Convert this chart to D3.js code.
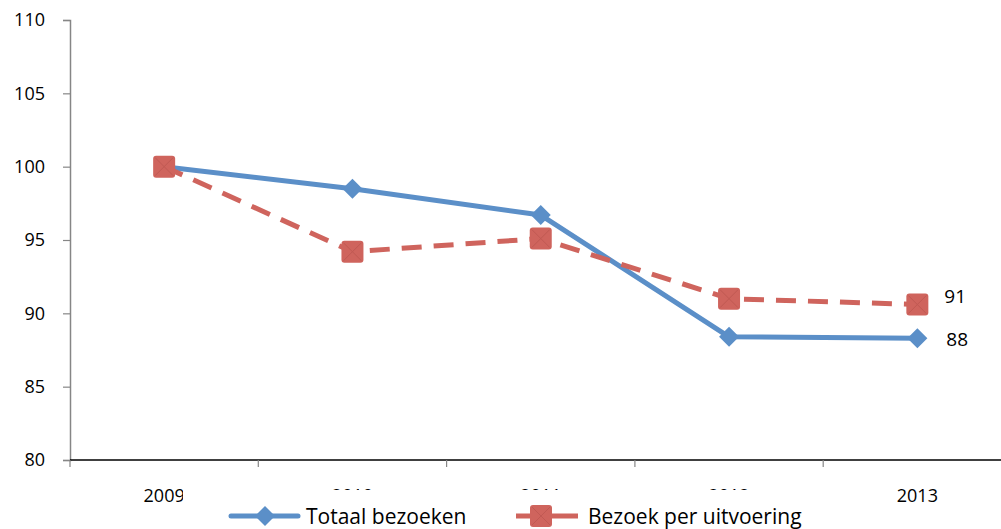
<!DOCTYPE html>
<html>
<head>
<meta charset="utf-8">
<script src="https://cdn.jsdelivr.net/npm/d3@7/dist/d3.min.js"></script>
<style>
  html, body { margin: 0; padding: 0; background: #fff; }
  svg { display: block; font-family: "Open Sans", Lato, sans-serif; }
</style>
</head>
<body>
<svg id="chart" width="1001" height="529"></svg>
<script>
// Index of visits (2009 = 100)
const years = ["2009", "2010", "2011", "2012", "2013"];
const totaalBezoeken = [100, 98.5, 96.7, 88.4, 88.3];
const bezoekPerUitvoering = [100, 94.2, 95.1, 91.0, 90.6];
const yTicks = [80, 85, 90, 95, 100, 105, 110];
const endLabels = ["88", "91"];

const blue = "#5b8fc8";
const red = "#cf645d";
const font = "'Open Sans', Lato, sans-serif";

const svg = d3.select("#chart");

const x = d3.scaleBand().domain(years).range([70, 1011.5]).padding(0);
const y = d3.scaleLinear().domain([80, 110]).range([460, 20]);
const cx = d => x(d) + x.bandwidth() / 2;

// Y axis
const yAxis = svg.append("g").attr("transform", "translate(70,0)")
  .call(d3.axisLeft(y).tickValues(yTicks).tickSize(7).tickPadding(18).tickFormat(d3.format("d")));
yAxis.select(".domain").attr("stroke", "#868686").attr("stroke-width", 1.5);
yAxis.selectAll(".tick line").attr("stroke", "#868686").attr("stroke-width", 1.2);
yAxis.selectAll(".tick text").attr("font-size", 18).attr("fill", "#000").attr("font-family", font);

// X axis: ticks sit on the category boundaries
const xg = svg.append("g");
xg.append("line").attr("x1", 70).attr("x2", 1011.5).attr("y1", 460).attr("y2", 460)
  .attr("stroke", "#000").attr("stroke-width", 1.3);
xg.selectAll("line.tick").data(years).join("line").attr("class", "tick")
  .attr("x1", d => x(d)).attr("x2", d => x(d)).attr("y1", 460).attr("y2", 467)
  .attr("stroke", "#868686").attr("stroke-width", 1.2);
xg.selectAll("text").data(years).join("text")
  .attr("x", cx).attr("y", 502).attr("text-anchor", "middle")
  .attr("font-size", 18).attr("fill", "#000").text(d => d);

// Lines
const line = d3.line().x((d, i) => cx(years[i])).y(d => y(d));

svg.append("path").datum(totaalBezoeken).attr("d", line)
  .attr("fill", "none").attr("stroke", blue).attr("stroke-width", 5).attr("stroke-linejoin", "round");

svg.append("path").datum(bezoekPerUitvoering).attr("d", line)
  .attr("fill", "none").attr("stroke", red).attr("stroke-width", 5)
  .attr("stroke-dasharray", "20,12");

// Markers
function diamond(g, px, py) {
  g.append("path")
    .attr("d", `M${px},${py - 10}L${px + 10},${py}L${px},${py + 10}L${px - 10},${py}Z`)
    .attr("fill", blue);
}
function square(g, px, py) {
  g.append("rect").attr("x", px - 11).attr("y", py - 11).attr("width", 22).attr("height", 22)
    .attr("rx", 3).attr("fill", red);
  g.append("path").attr("d", `M${px - 9},${py - 9}L${px + 9},${py + 9}M${px + 9},${py - 9}L${px - 9},${py + 9}`)
    .attr("stroke", "#b8534d").attr("stroke-width", 1).attr("opacity", 0.6);
}
const markers = svg.append("g");
totaalBezoeken.forEach((v, i) => diamond(markers, cx(years[i]), y(v)));
bezoekPerUitvoering.forEach((v, i) => square(markers, cx(years[i]), y(v)));

// End value labels
const last = years.length - 1;
svg.append("text").attr("x", cx(years[last]) + 29).attr("y", y(totaalBezoeken[last]) + 8)
  .attr("font-size", 19).text(endLabels[0]);
svg.append("text").attr("x", cx(years[last]) + 27).attr("y", y(bezoekPerUitvoering[last]) - 2)
  .attr("font-size", 19).text(endLabels[1]);

// Legend (white box over the axis labels)
const lg = svg.append("g");
lg.append("rect").attr("x", 183).attr("y", 490).attr("width", 680).attr("height", 40).attr("fill", "#fff");
lg.append("line").attr("x1", 231).attr("x2", 298).attr("y1", 516).attr("y2", 516)
  .attr("stroke", blue).attr("stroke-width", 5).attr("stroke-linecap", "round");
diamond(lg, 265, 516);
lg.append("text").attr("x", 306).attr("y", 524).attr("font-size", 21).text("Totaal bezoeken");
lg.append("line").attr("x1", 516).attr("x2", 578).attr("y1", 516).attr("y2", 516)
  .attr("stroke", red).attr("stroke-width", 5);
square(lg, 541, 516);
lg.append("text").attr("x", 588).attr("y", 524).attr("font-size", 21).text("Bezoek per uitvoering");
</script>
</body>
</html>
